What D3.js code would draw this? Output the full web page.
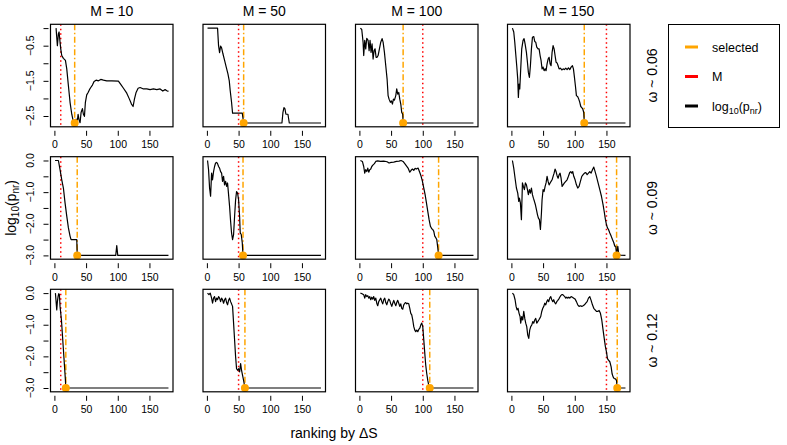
<!DOCTYPE html>
<html><head><meta charset="utf-8">
<script src="https://cdn.jsdelivr.net/npm/d3@7"></script>
<style>html,body{margin:0;padding:0;background:#fff}svg{display:block}text{font-family:"Liberation Sans",Arial,Helvetica,sans-serif;fill:#000}</style>
</head><body><svg id="c" width="787" height="445"></svg>
<script>
// ---------- data ----------
const Mvalues = [10, 50, 100, 150];
const omegaLabels = ["0.06", "0.09", "0.12"];
const xTicks = [0, 50, 100, 150];
const selectedRank = [[32, 58, 69, 115], [36, 57, 125, 166], [18, 60, 111, 167]];
const minLogp = [-2.699, -3, -3];
const yTicksRow = [[0, -0.5, -1, -1.5, -2, -2.5], [0, -0.5, -1, -1.5, -2, -2.5, -3], [0, -0.5, -1, -1.5, -2, -2.5, -3]];
const yLabelsRow = [[-0.5, -1.5, -2.5], [0, -1, -2, -3], [0, -1, -2, -3]];

// omega ~ 0.06
const rank_w006_M10 = [2.6,4.7,6.3,7.4,8.9,10,11.6,14.2,17.4,19.5,22.1,24.7,27.4,30,32,34.2,35.8,37.4,38.9,40.5,42.1,44.2,45.8,47.4,48.9,51,53.2,55.3,57.4,60,62.6,65.8,69.5,73.2,77.4,82.6,90.5,101,104.7,109,114.2,118.4,121.6,124.2,126.3,128.9,132.1,135.3,140.5,145.8,151,156.3,161.6,166.8,171,174.7,177.4,180];
const logp_w006_M10 = [0,-0.5,-0.16,-0.11,-0.4,-0.59,-0.78,-0.86,-0.92,-1.16,-1.64,-2.11,-2.45,-2.67,-2.699,-2.59,-2.699,-2.45,-2.61,-2.69,-2.4,-2.29,-2.45,-2.51,-2.11,-1.9,-1.83,-1.75,-1.69,-1.62,-1.52,-1.48,-1.5,-1.46,-1.48,-1.5,-1.5,-1.51,-1.6,-1.71,-1.85,-2.02,-2.16,-2.23,-2.02,-1.83,-1.71,-1.69,-1.73,-1.73,-1.75,-1.73,-1.75,-1.73,-1.79,-1.75,-1.78,-1.8];
const rank_w006_M50 = [1,16.8,18.4,20,21.6,23.2,25.3,27.9,30.5,33.2,35.3,36.8,38.9,40.5,55.8,58,118.4,120,121.6,123.2,124.7,127.9,130,180];
const logp_w006_M50 = [0,0,-0.5,-0.7,-0.51,-0.56,-0.73,-0.92,-1.11,-1.3,-1.5,-1.78,-2.11,-2.42,-2.42,-2.699,-2.699,-2.4,-2.26,-2.3,-2.45,-2.45,-2.699,-2.699];
const rank_w006_M100 = [1.6,3.7,5.8,6.8,8.4,10,11.6,13.7,15.3,16.8,18.4,20,21.6,23.2,24.7,26.3,27.9,29.5,31.6,33.7,35.8,37.4,39.5,41.6,43.7,45.3,46.8,48.9,50.5,52.1,53.7,55.3,57.4,58.9,60.5,62.1,63.7,65.3,66.8,68.4,69,180];
const logp_w006_M100 = [0,-0.04,-0.4,-0.78,-0.35,-0.59,-0.29,-0.35,-0.64,-0.35,-0.69,-0.45,-0.88,-0.64,-0.59,-0.83,-0.83,-0.78,-0.59,-0.4,-0.3,-0.4,-0.69,-1.07,-1.45,-1.92,-2.02,-2.11,-2.07,-2.16,-2.02,-2.05,-1.92,-1.73,-1.88,-1.83,-2.02,-2.16,-2.4,-2.45,-2.699,-2.699];
const rank_w006_M150 = [1.6,3.7,5.3,6.8,8.4,10,11,12.1,13.2,14.7,16.3,18.4,20,21.6,23.7,25.3,26.8,28.4,30,31.6,33.2,35.3,36.8,38.4,40,42.1,43.7,45.3,46.8,48.4,50,51.6,53.2,54.7,56.3,57.9,59.5,61.1,62.6,64.2,65.8,67.4,68.9,70.5,72.1,73.7,75.3,77.4,79.5,81.6,83.7,85.8,87.9,90,92.1,94.2,96.3,97.9,99.5,101,102.6,104.7,106.3,107.9,109.5,111,112.6,114.2,115,180];
const logp_w006_M150 = [0,-0.11,-0.4,-0.73,-1.07,-1.45,-1.97,-1.59,-1.73,-1.16,-0.59,-0.35,-0.3,-0.45,-0.69,-0.97,-1.26,-1.4,-1.07,-0.59,-0.26,-0.24,-0.38,-0.4,-0.54,-0.59,-0.59,-0.78,-0.92,-1.16,-1.11,-1.21,-1.16,-1.21,-1.02,-0.88,-0.83,-1.02,-1.07,-0.69,-0.5,-0.59,-0.78,-0.97,-0.99,-1.07,-1.16,-1.14,-1.19,-1.16,-1.18,-1.14,-1.18,-1.13,-1.18,-1.11,-1.07,-1.16,-1.4,-1.64,-1.92,-1.95,-2.02,-2.11,-2.23,-2.26,-2.3,-2.4,-2.699,-2.699];

// omega ~ 0.09
const rank_w009_M10 = [1,6.3,8.9,11.6,14.2,16.8,19.5,22.1,24.7,26.3,35.3,36,96.8,98.4,100,180];
const logp_w009_M10 = [0,0,-0.29,-0.61,-0.87,-1.34,-1.76,-2.13,-2.39,-2.5,-2.5,-3,-3,-2.69,-3,-3];
const rank_w009_M50 = [1,2.6,4.2,5.8,7.4,8.9,10.5,12.1,13.7,15.3,16.8,18.4,20,21.6,23.2,24.7,26.3,27.9,29.5,31.1,32.6,34.2,35.8,37.4,38.9,40.5,42.1,43.7,45.3,46.8,48.4,50,51.6,52.6,54.2,55.8,57,180];
const logp_w009_M50 = [0,-0.29,-0.87,-1.13,-0.4,-0.61,-0.35,-0.19,-0.08,-0.06,-0.1,-0.19,-0.24,-0.35,-0.4,-0.66,-0.5,-0.77,-0.66,-0.82,-0.71,-1.08,-1.45,-1.92,-2.29,-2.5,-2.34,-1.76,-1.24,-0.98,-1.03,-1.24,-1.76,-2.29,-2.34,-2.6,-3,-3];
const rank_w009_M100 = [1.6,4.7,6.8,8.4,10,11.6,13.2,14.7,16.3,17.9,19.5,21.6,23.7,25.8,28.9,33.2,38.4,43.7,46.8,50,54.2,58.4,62.6,65.8,68.9,71.6,74.2,76.8,79.5,81.6,83.7,85.8,87.9,90,92.6,95.3,97.4,99.5,101.6,103.7,105.8,107.9,110,112.1,114.2,115.8,117.4,118.9,120.5,122.1,123.7,125,180];
const logp_w009_M100 = [0,-0.03,-0.19,-0.4,-0.29,-0.35,-0.24,-0.37,-0.29,-0.27,-0.19,-0.14,-0.1,-0.03,-0.01,-0.03,-0.02,-0.04,-0.08,-0.06,-0.05,-0.03,-0.02,0,-0.03,-0.1,-0.17,-0.24,-0.37,-0.31,-0.27,-0.31,-0.25,-0.27,-0.24,-0.38,-0.5,-0.66,-0.87,-1.08,-1.34,-1.61,-1.87,-2.08,-2.16,-2.18,-2.24,-2.39,-2.44,-2.5,-2.76,-3,-3];
const rank_w009_M150 = [1.6,3.7,5.8,7.9,10,11.6,12.6,14.2,15.8,17.4,18.9,20.5,22.1,23.7,25.3,26.8,28.4,30,31.6,33.2,34.7,36.3,37.9,39.5,41.1,42.6,44.2,45.8,47.4,48.4,50,51.6,53.2,54.7,56.3,57.9,59.5,61.1,62.6,64.2,65.8,67.4,68.9,70.5,72.1,73.7,75.3,76.8,78.4,80,81.6,83.7,85.8,87.9,90,92.1,93.7,95.3,96.8,98.4,100.5,102.6,104.7,106.8,108.9,111.1,113.2,115.3,117.4,119.5,121.6,123.7,125.8,127.9,130,132.1,134.2,136.8,139.5,142.1,144.7,146.8,148.4,150,151.6,153.2,155.3,157.4,159.5,161.6,163.2,164.7,166,167.9,169.5,172,180];
const logp_w009_M150 = [0,-0.24,-0.56,-0.87,-1.03,-1.29,-1.19,-1.34,-1.87,-0.71,-0.82,-0.92,-0.71,-0.77,-0.92,-1.08,-0.92,-1.03,-0.87,-1.08,-1.19,-1.29,-1.4,-1.55,-1.71,-1.82,-1.87,-2.18,-1.66,-1.24,-0.92,-0.98,-0.82,-0.71,-0.5,-0.66,-0.77,-0.71,-0.66,-0.61,-0.5,-0.4,-0.27,-0.35,-0.48,-0.56,-0.45,-0.4,-0.56,-0.82,-0.77,-0.71,-0.66,-0.61,-0.5,-0.38,-0.35,-0.4,-0.35,-0.5,-0.61,-0.77,-0.87,-0.82,-0.66,-0.5,-0.45,-0.4,-0.38,-0.45,-0.4,-0.35,-0.4,-0.29,-0.21,-0.35,-0.5,-0.71,-0.92,-1.13,-1.4,-1.66,-1.87,-2.03,-2.13,-2.18,-2.29,-2.39,-2.5,-2.6,-2.71,-2.71,-3,-2.71,-2.97,-2.99,-3];

// omega ~ 0.12
const rank_w012_M10 = [1.6,3.7,4.7,5.8,6.8,7.9,8.9,11.1,13.2,15.3,17.4,18,180];
const logp_w012_M10 = [0,-0.53,-0.27,-0.11,-0.02,-0.05,-0.42,-0.85,-1.48,-2.12,-2.76,-3,-3];
const rank_w012_M50 = [1,3.2,5.3,7.4,8.9,10.5,12.1,13.7,15.3,16.8,18.4,20,21.6,23.2,24.7,26.3,27.9,29.5,31.1,32.6,34.2,35.8,37.4,38.9,40.5,42.1,43.7,45.3,46.8,48.4,50,51.6,53.2,54.7,56.3,57.9,60,180];
const logp_w012_M50 = [0,-0.05,0,-0.16,-0.32,-0.16,-0.11,-0.27,-0.16,-0.21,-0.11,-0.16,-0.27,-0.16,-0.21,-0.32,-0.21,-0.16,-0.3,-0.37,-0.23,-0.16,-0.27,-0.34,-0.42,-0.95,-1.48,-2.01,-2.39,-2.44,-2.39,-2.49,-2.23,-2.44,-2.6,-2.76,-3,-3];
const rank_w012_M100 = [1.6,4.2,6.8,8.4,10,11.6,13.2,14.7,16.3,17.9,19.5,21.1,22.6,24.2,25.8,27.4,28.9,30.5,32.1,33.7,35.3,36.8,38.4,40,41.6,43.2,44.7,46.3,47.9,49.5,51.1,52.6,54.2,55.8,57.4,58.9,60.5,62.1,63.7,65.3,66.8,68.4,70,71.6,73.2,74.7,76.3,77.9,79.5,81.1,82.6,84.2,85.8,87.4,88.9,90.5,92.1,93.7,95.3,96.8,98.4,100,101.6,103.2,104.7,106.3,107.9,109.5,111,180];
const logp_w012_M100 = [0,-0.02,-0.05,-0.16,-0.05,-0.11,-0.08,-0.16,-0.11,-0.21,-0.13,-0.19,-0.11,-0.23,-0.16,-0.32,-0.4,-0.27,-0.21,-0.16,-0.27,-0.34,-0.21,-0.16,-0.3,-0.37,-0.27,-0.19,-0.23,-0.34,-0.42,-0.32,-0.23,-0.32,-0.4,-0.3,-0.23,-0.32,-0.42,-0.34,-0.48,-0.51,-0.37,-0.32,-0.3,-0.34,-0.32,-0.34,-0.48,-0.64,-0.69,-0.85,-1.06,-1.17,-1.22,-1.17,-1.22,-1.15,-1.11,-1.01,-0.95,-1.06,-1.48,-1.91,-2.28,-2.55,-2.76,-2.92,-3,-3];
const rank_w012_M150 = [1.6,3.7,5.8,7.4,8.9,10.5,12.1,13.7,14.7,16.3,17.9,19.5,21.1,22.6,24.2,25.8,27.4,28.9,30.5,32.1,33.7,35.3,36.8,38.4,40,41.6,43.2,44.7,46.3,47.9,49.5,51.1,52.6,54.2,55.8,57.4,58.9,60.5,62.1,63.7,65.3,66.8,68.4,70,71.6,73.2,74.7,76.3,77.9,79.5,81.1,82.6,84.2,85.8,87.4,88.9,90.5,92.1,94.2,96.3,98.4,100.5,102.6,104.7,106.8,108.9,111.1,113.2,115.3,117.4,119.5,121.6,123.7,125.8,127.9,130,132.1,134.2,136.3,138.4,140.5,142.6,144.7,146.8,148.4,150,151.6,153.2,155.3,157.4,158.9,160.5,162.1,164.2,165.8,167,180];
const logp_w012_M150 = [0,-0.05,-0.21,-0.42,-0.53,-0.48,-0.64,-0.74,-0.95,-0.74,-0.85,-0.58,-0.8,-0.95,-1.06,-1.33,-1.43,-1.17,-1.06,-1.01,-0.9,-0.95,-0.85,-0.8,-0.95,-0.9,-0.85,-0.8,-0.74,-0.58,-0.48,-0.42,-0.32,-0.37,-0.27,-0.21,-0.27,-0.16,-0.11,-0.21,-0.27,-0.21,-0.3,-0.34,-0.27,-0.23,-0.19,-0.13,-0.08,-0.05,-0.05,-0.08,-0.11,-0.16,-0.13,-0.16,-0.13,-0.16,-0.11,-0.13,-0.16,-0.19,-0.27,-0.37,-0.42,-0.4,-0.42,-0.4,-0.37,-0.32,-0.27,-0.16,-0.11,-0.23,-0.37,-0.48,-0.53,-0.58,-0.58,-0.55,-0.64,-0.85,-1.17,-1.48,-1.7,-1.86,-2.07,-2.12,-2.17,-2.33,-2.55,-2.65,-2.7,-2.71,-2.76,-3,-3];

const seriesRank = [[rank_w006_M10, rank_w006_M50, rank_w006_M100, rank_w006_M150],[rank_w009_M10, rank_w009_M50, rank_w009_M100, rank_w009_M150],[rank_w012_M10, rank_w012_M50, rank_w012_M100, rank_w012_M150]];
const seriesLogp = [[logp_w006_M10, logp_w006_M50, logp_w006_M100, logp_w006_M150],[logp_w009_M10, logp_w009_M50, logp_w009_M100, logp_w009_M150],[logp_w012_M10, logp_w012_M50, logp_w012_M100, logp_w012_M150]];

// ---------- layout ----------
const colL = [50.5, 203, 355.5, 507.5], panelW = 122.5;
const rowT = [24.3, 156.7, 289.3], panelH = 102.5;
const ORANGE = "#FFA500", RED = "#FF0000";
const svg = d3.select("#c");
const fmt = d3.format(".1f");
const defs = svg.append("defs");

for (let r = 0; r < 3; r++) {
  const yDom = r === 0 ? [-2.807, 0.108] : [-3.12, 0.12];
  for (let c = 0; c < 4; c++) {
    const L = colL[c], T = rowT[r];
    const x = d3.scaleLinear().domain([-6.16, 187.16]).range([L, L + panelW]);
    const y = d3.scaleLinear().domain(yDom).range([T + panelH, T]);
    const id = `clip${r}${c}`;
    defs.append("clipPath").attr("id", id).append("rect").attr("x", L).attr("y", T).attr("width", panelW).attr("height", panelH);
    const g = svg.append("g");
    const pg = g.append("g").attr("clip-path", `url(#${id})`);
    // M line (red dotted)
    pg.append("line").attr("x1", x(Mvalues[c])).attr("x2", x(Mvalues[c])).attr("y1", T).attr("y2", T + panelH)
      .attr("stroke", RED).attr("stroke-width", 1.5).attr("stroke-dasharray", "1.5,3");
    // selected (orange dot-dash)
    const s = selectedRank[r][c];
    pg.append("line").attr("x1", x(s)).attr("x2", x(s)).attr("y1", T).attr("y2", T + panelH)
      .attr("stroke", ORANGE).attr("stroke-width", 1.5).attr("stroke-dasharray", "6,2.5,1.5,2.5");
    // series
    const xs = seriesRank[r][c], ys = seriesLogp[r][c];
    const pts = xs.map((v, i) => [v, ys[i]]);
    pg.append("path").attr("d", d3.line().x(d => x(d[0])).y(d => y(d[1]))(pts))
      .attr("fill", "none").attr("stroke", "#000").attr("stroke-width", 1.2).attr("stroke-linejoin", "round");
    // dot
    g.append("circle").attr("cx", x(s)).attr("cy", y(minLogp[r])).attr("r", 4).attr("fill", ORANGE);
    // box
    g.append("rect").attr("x", L).attr("y", T).attr("width", panelW).attr("height", panelH)
      .attr("fill", "none").attr("stroke", "#000").attr("stroke-width", 1.2);
    // x axis ticks (no axis line)
    const xa = g.append("g").attr("transform", `translate(0,${T + panelH + 4})`)
      .call(d3.axisBottom(x).tickValues(xTicks).tickSize(5).tickPadding(5).tickFormat(d3.format("d")));
    xa.select(".domain").remove();
    xa.selectAll("line").attr("stroke", "#000").attr("stroke-width", 1);
    xa.selectAll("text").attr("font-size", 10.5).attr("font-family", "Liberation Sans, Arial, sans-serif");
    // y axis only first column
    if (c === 0) {
      const ya = g.append("g").attr("transform", `translate(${L - 2},0)`)
        .call(d3.axisLeft(y).tickValues(yTicksRow[r]).tickSize(5).tickFormat(""));
      ya.select(".domain").remove();
      ya.selectAll("line").attr("stroke", "#000");
      yLabelsRow[r].forEach(v => {
        g.append("text").attr("transform", `translate(${L - 17},${y(v)}) rotate(-90)`)
          .attr("text-anchor", "middle").attr("font-size", 10.5).text(fmt(v));
      });
    }
    if (r === 0) {
      g.append("text").attr("x", L + panelW / 2).attr("y", 15.5).attr("text-anchor", "middle")
        .attr("font-size", 14).text(`M = ${Mvalues[c]}`);
    }
    if (c === 3) {
      g.append("text").attr("transform", `translate(${657},${T + panelH / 2}) rotate(-90)`)
        .attr("text-anchor", "middle").attr("font-size", 14).text(`ω ~ ${omegaLabels[r]}`);
    }
  }
}

// y label
const yl = svg.append("text").attr("transform", `translate(16,${rowT[1] + panelH / 2}) rotate(-90)`)
  .attr("text-anchor", "middle").attr("font-size", 14);
yl.append("tspan").text("log");
yl.append("tspan").attr("font-size", 10).attr("dy", 3).text("10");
yl.append("tspan").attr("dy", -3).text("(p");
yl.append("tspan").attr("font-size", 10).attr("dy", 3).text("nr");
yl.append("tspan").attr("dy", -3).text(")");

// x label
svg.append("text").attr("x", 334).attr("y", 438).attr("text-anchor", "middle").attr("font-size", 14).text("ranking by ΔS");

// legend
const lg = svg.append("g");
lg.append("rect").attr("x", 668.5).attr("y", 24.5).attr("width", 111).attr("height", 103).attr("fill", "none").attr("stroke", "#000");
const legItems = [{t: "selected", col: ORANGE}, {t: "M", col: RED}, {t: "log", col: "#000"}];
legItems.forEach((d, i) => {
  const yy = 47 + i * 29.5;
  lg.append("line").attr("x1", 685).attr("x2", 698).attr("y1", yy).attr("y2", yy).attr("stroke", d.col).attr("stroke-width", 3);
  const tx = lg.append("text").attr("x", 712).attr("y", yy + 4.5).attr("font-size", 12.5);
  if (i < 2) tx.text(d.t);
  else {
    tx.append("tspan").text("log");
    tx.append("tspan").attr("font-size", 9).attr("dy", 3).text("10");
    tx.append("tspan").attr("dy", -3).text("(p");
    tx.append("tspan").attr("font-size", 9).attr("dy", 3).text("nr");
    tx.append("tspan").attr("dy", -3).text(")");
  }
});
</script></body></html>
